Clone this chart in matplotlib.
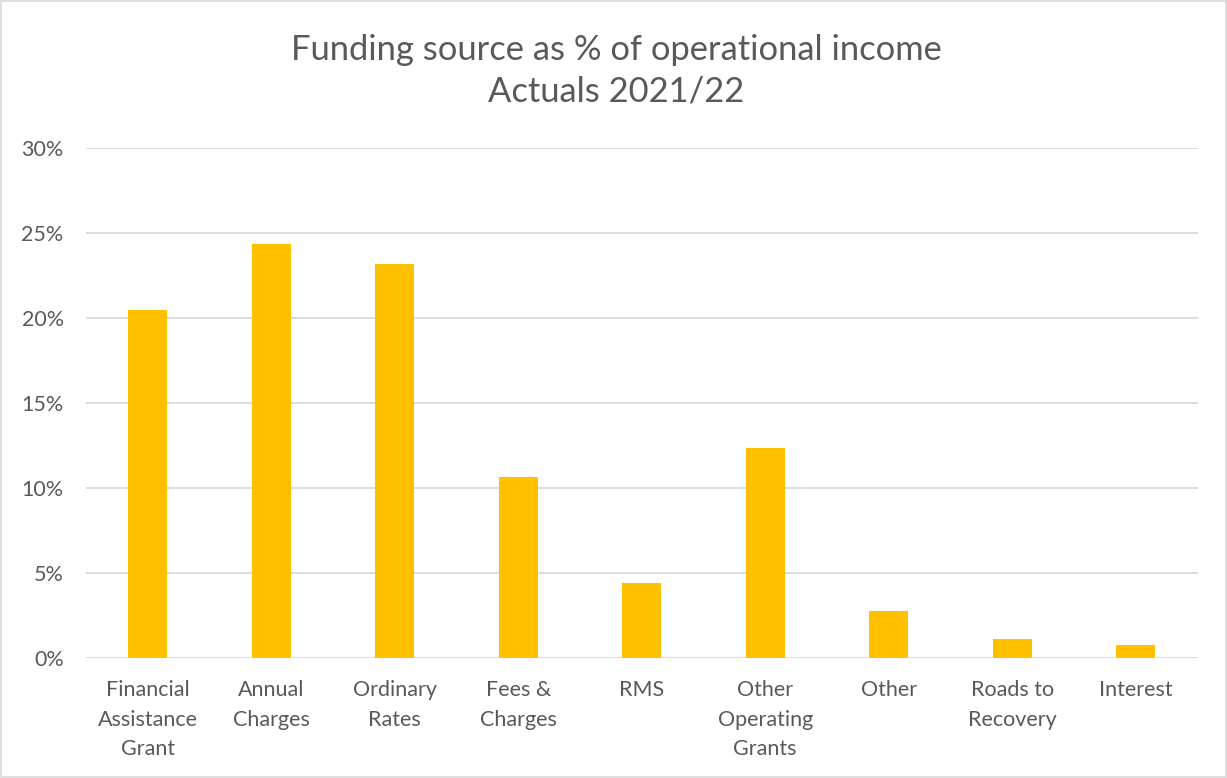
import matplotlib.pyplot as plt
from matplotlib.patches import Rectangle
from matplotlib.ticker import FuncFormatter

categories = ["Financial\nAssistance\nGrant", "Annual\nCharges", "Ordinary\nRates",
              "Fees &\nCharges", "RMS", "Other\nOperating\nGrants", "Other",
              "Roads to\nRecovery", "Interest"]
shares = [20.43, 24.32, 23.18, 10.61, 4.38, 12.34, 2.73, 1.10, 0.75]

plt.rcParams['font.family'] = ['Lato', 'DejaVu Sans']
grey = '#595959'

fig = plt.figure(figsize=(12.27, 7.78), dpi=100)
ax = fig.add_axes([0.070, 0.1546, 0.906, 0.6556])

x = range(len(categories))
ax.bar(x, shares, width=0.315, color='#FFC000', zorder=3)

ax.set_xlim(-0.5, len(categories) - 0.5)
ax.set_ylim(0, 30)
ax.set_yticks([0, 5, 10, 15, 20, 25, 30])
ax.yaxis.set_major_formatter(FuncFormatter(lambda v, p: f"{v:.0f}%"))
ax.grid(axis='y', color='#D9D9D9', linewidth=1.3, zorder=0)
for s in ax.spines.values():
    s.set_visible(False)
ax.tick_params(axis='both', length=0, labelsize=15.5, colors=grey)
ax.tick_params(axis='y', pad=16)
ax.tick_params(axis='x', pad=16)
ax.set_xticks(list(x))
ax.set_xticklabels(categories, linespacing=1.6, va='top')

fig.text(0.502, 0.909, "Funding source as % of operational income\nActuals 2021/22",
         ha='center', va='center', fontsize=24.8, color=grey, linespacing=1.4)

fig.patches.append(Rectangle((0.001, 0.001), 0.998, 0.998, transform=fig.transFigure,
                             fill=False, edgecolor='#D9D9D9', linewidth=1.2))

fig.savefig('out.png', dpi=100)
